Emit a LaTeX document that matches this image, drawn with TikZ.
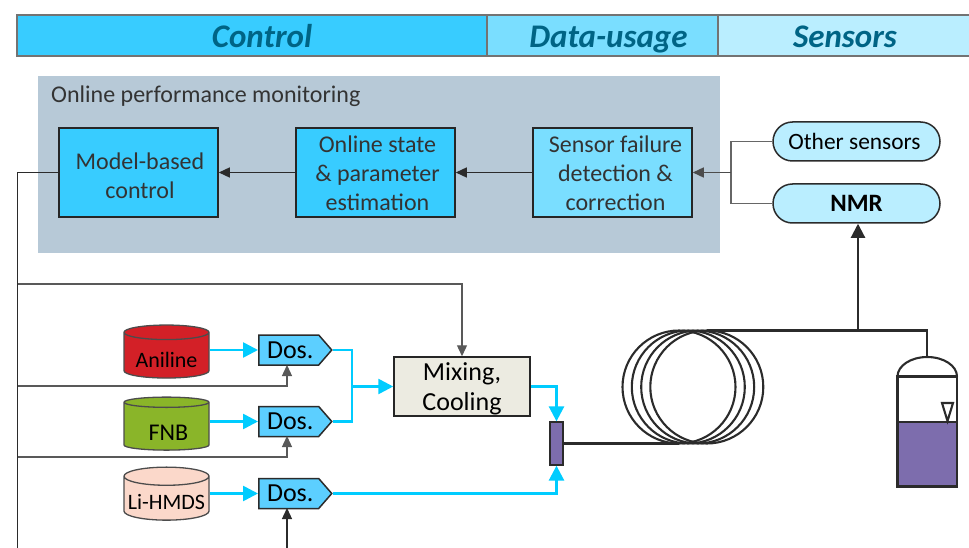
\documentclass[tikz,border=0pt]{standalone}
\usepackage{fontspec}
\setmainfont{Carlito}
\usetikzlibrary{shapes.geometric,shapes.misc,shapes.symbols,arrows.meta}

\definecolor{headone}{HTML}{38CCFF}
\definecolor{headtwo}{HTML}{7ADEFF}
\definecolor{headthree}{HTML}{BAEEFF}
\definecolor{headtext}{HTML}{006485}
\definecolor{panelgray}{HTML}{B7C9D7}
\definecolor{dosblue}{HTML}{5CCFFF}
\definecolor{flowcyan}{HTML}{00CCFF}
\definecolor{mixbeige}{HTML}{ECEBE1}
\definecolor{purplefill}{HTML}{7D6DAD}
\definecolor{linedark}{HTML}{2B2B2B}
\definecolor{textdark}{HTML}{333333}
\definecolor{tankred}{HTML}{D32027}
\definecolor{tankgreen}{HTML}{8AB529}
\definecolor{tankpeach}{HTML}{FBD8CA}

\tikzset{
	headbox/.style={draw=black!55,line width=1.6pt,minimum height=41pt,inner sep=0pt,text height=26pt,text depth=1pt,
		font=\fontsize{33}{33}\selectfont\bfseries\itshape,text=headtext},
	procbox/.style={draw=black!85,line width=1.5pt,minimum width=159pt,minimum height=89pt,inner sep=0pt,
		align=center,text=textdark,font=\fontsize{24}{29}\selectfont},
	sensorbox/.style={rounded rectangle,draw=linedark,line width=1.5pt,fill=headthree,minimum width=167pt,
		minimum height=39pt,inner sep=0pt,font=\fontsize{23.4}{29}\selectfont},
	tank/.style={cylinder,shape border rotate=90,aspect=0.235,draw=black!70,line width=1.3pt,minimum width=85pt,
		minimum height=53pt,inner sep=0pt,font=\fontsize{22}{26}\selectfont},
	dosbox/.style={signal,signal to=east,signal pointer angle=98,draw=linedark,line width=1.5pt,fill=dosblue,
		minimum width=73pt,minimum height=30pt,inner sep=0pt,anchor=west,font=\fontsize{26}{26}\selectfont},
	ctrl/.style={draw=linedark,line width=1.3pt},
	ctrlarrow/.style={ctrl,-{Triangle[length=11pt,width=10pt]}},
	flow/.style={draw=flowcyan,line width=2.6pt},
	flowarrow/.style={flow,-{Triangle[length=15pt,width=15pt]}},
	pipe/.style={draw=linedark,line width=2.1pt}
}

\begin{document}
\begin{tikzpicture}[x=1pt,y=-1pt]
	\useasboundingbox (0,0) rectangle (969,548);

	% header
	\node[headbox,fill=headone,minimum width=470pt] (control) at (252,35.5) {\hspace*{20pt}Control};
	\node[headbox,fill=headtwo,minimum width=231pt] (datausage) at (602.5,35.5) {\hspace*{12pt}Data-usage};
	\node[headbox,fill=headthree,minimum width=254pt] (sensors) at (845,35.5) {Sensors};

	% monitoring panel
	\fill[panelgray] (38,76) rectangle (720,253);
	\node[anchor=west,inner sep=0pt,text=textdark,font=\fontsize{24}{29}\selectfont] (monitoring) at (51,96) {Online performance monitoring};
	\node[procbox,fill=headone] (model) at (138.5,172.5) {\rule{0pt}{23pt}\hspace*{3pt}Model-based\\\hspace*{3pt}control};
	\node[procbox,fill=headone] (state) at (375.5,172.5) {\rule{0pt}{19pt}\hspace*{4pt}Online state\\\hspace*{4pt}\& parameter\\\hspace*{4pt}estimation};
	\node[procbox,fill=headtwo] (failure) at (612.5,172.5) {\rule{0pt}{19pt}\hspace*{6pt}Sensor failure\\\hspace*{6pt}detection \&\\\hspace*{6pt}correction};

	% sensors
	\node[sensorbox] (other) at (856.5,141.5) {Other sensors\hspace*{4pt}};
	\node[sensorbox,font=\fontsize{25}{29}\selectfont\bfseries] (nmr) at (856.5,203.5) {NMR};

	\draw[ctrlarrow] (state) -- (model);
	\draw[ctrlarrow] (failure) -- (state);
	\coordinate (sensorjoin) at (731,172.5);
	\draw[ctrl,draw=black!60] (other.west) -| (sensorjoin);
	\draw[ctrl,draw=black!60] (nmr.west) -| (sensorjoin);
	\draw[ctrlarrow,draw=black!70] (sensorjoin) -- (failure);

	% feed section
	\node[tank,fill=tankred] (aniline) at (166.5,355.5) {\raisebox{-4pt}[16pt][0pt]{Aniline}};
	\node[tank,fill=tankgreen] (fnb) at (166.5,426.5) {\raisebox{-6pt}[16pt][0pt]{\fontsize{24}{26}\selectfont\hspace*{4pt}FNB}};
	\node[tank,fill=tankpeach] (lihmds) at (166.5,498.5) {\raisebox{-3pt}[16pt][0pt]{Li-HMDS}};
	\node[dosbox] (dosa) at (258,350) {\hspace*{3pt}Dos.};
	\node[dosbox] (dosb) at (258,421.5) {\hspace*{3pt}Dos.};
	\node[dosbox] (dosc) at (258,493.5) {\hspace*{3pt}Dos.};
	\node[draw=black!85,line width=1.5pt,fill=mixbeige,minimum width=136pt,minimum height=59pt,inner sep=0pt,
		align=center,font=\fontsize{26}{30}\selectfont] (mixing) at (462,386.5) {\rule{0pt}{23pt}Mixing,\\Cooling};
	\node[draw=linedark,line width=1.3pt,fill=purplefill,minimum width=13pt,minimum height=43pt,inner sep=0pt] (mixer) at (556.5,443.5) {};

	\draw[flowarrow] (aniline.east|-dosa) -- (dosa.west);
	\draw[flowarrow] (fnb.east|-dosb) -- (dosb.west);
	\draw[flowarrow] (lihmds.east|-dosc) -- (dosc.west);
	\coordinate (flowjoin) at (352,386.5);
	\draw[flow] (dosa.east) -| (flowjoin);
	\draw[flow] (dosb.east) -| (flowjoin);
	\draw[flowarrow] (flowjoin) -- (mixing.west);
	\draw[flowarrow] (mixing.east) -| (mixer.north);
	\draw[flowarrow] (dosc.east) -| (mixer.south);

	% control lines
	\coordinate (busend) at (17.5,548);
	\coordinate (busmix) at (17.5,284);
	\coordinate (busani) at (17.5,386);
	\coordinate (busfnb) at (17.5,457);
	\coordinate (inleta) at (287,365);
	\coordinate (inletb) at (287,436);
	\coordinate (inletc) at (287,508);
	\coordinate (inletcend) at (287,548);
	\draw[ctrl] (model.west) -| (busend);
	\draw[ctrlarrow,draw=black!65] (busmix) -| (mixing.north);
	\draw[ctrlarrow,draw=black!65] (busani) -| (inleta);
	\draw[ctrlarrow,draw=black!65] (busfnb) -| (inletb);
	\draw[ctrlarrow] (inletcend) -- (inletc);

	% coil
	\foreach \cx in {679,688.3,697.7,706.8}
		\draw[pipe] (\cx,387) circle[radius=56.5];
	\coordinate (coilin) at (679,443.5);
	\coordinate (coilout) at (706.8,330.5);
	\coordinate (nmrtap) at (858,330.5);
	\draw[pipe] (mixer.east|-coilin) -- (coilin);
	\draw[pipe] (coilout) -- (nmrtap);
	\draw[pipe,-{Triangle[length=14pt,width=14pt]}] (nmrtap) -- (nmr.south-|nmrtap);

	% vessel
	\fill[purplefill] (897.5,422) rectangle (957,486.5);
	\draw[pipe] (nmrtap) -- (927,330.5) -- (927,357);
	\draw[pipe] (897.5,376.5) arc[start angle=180,end angle=0,x radius=29.75,y radius=-19.5];
	\draw[pipe] (897.5,376.5) rectangle (957,486.5);
	\draw[pipe] (897.5,422) -- (957,422);
	\draw[pipe] (942,403) -- (953,403) -- (947.5,421) -- cycle;
\end{tikzpicture}
\end{document}
